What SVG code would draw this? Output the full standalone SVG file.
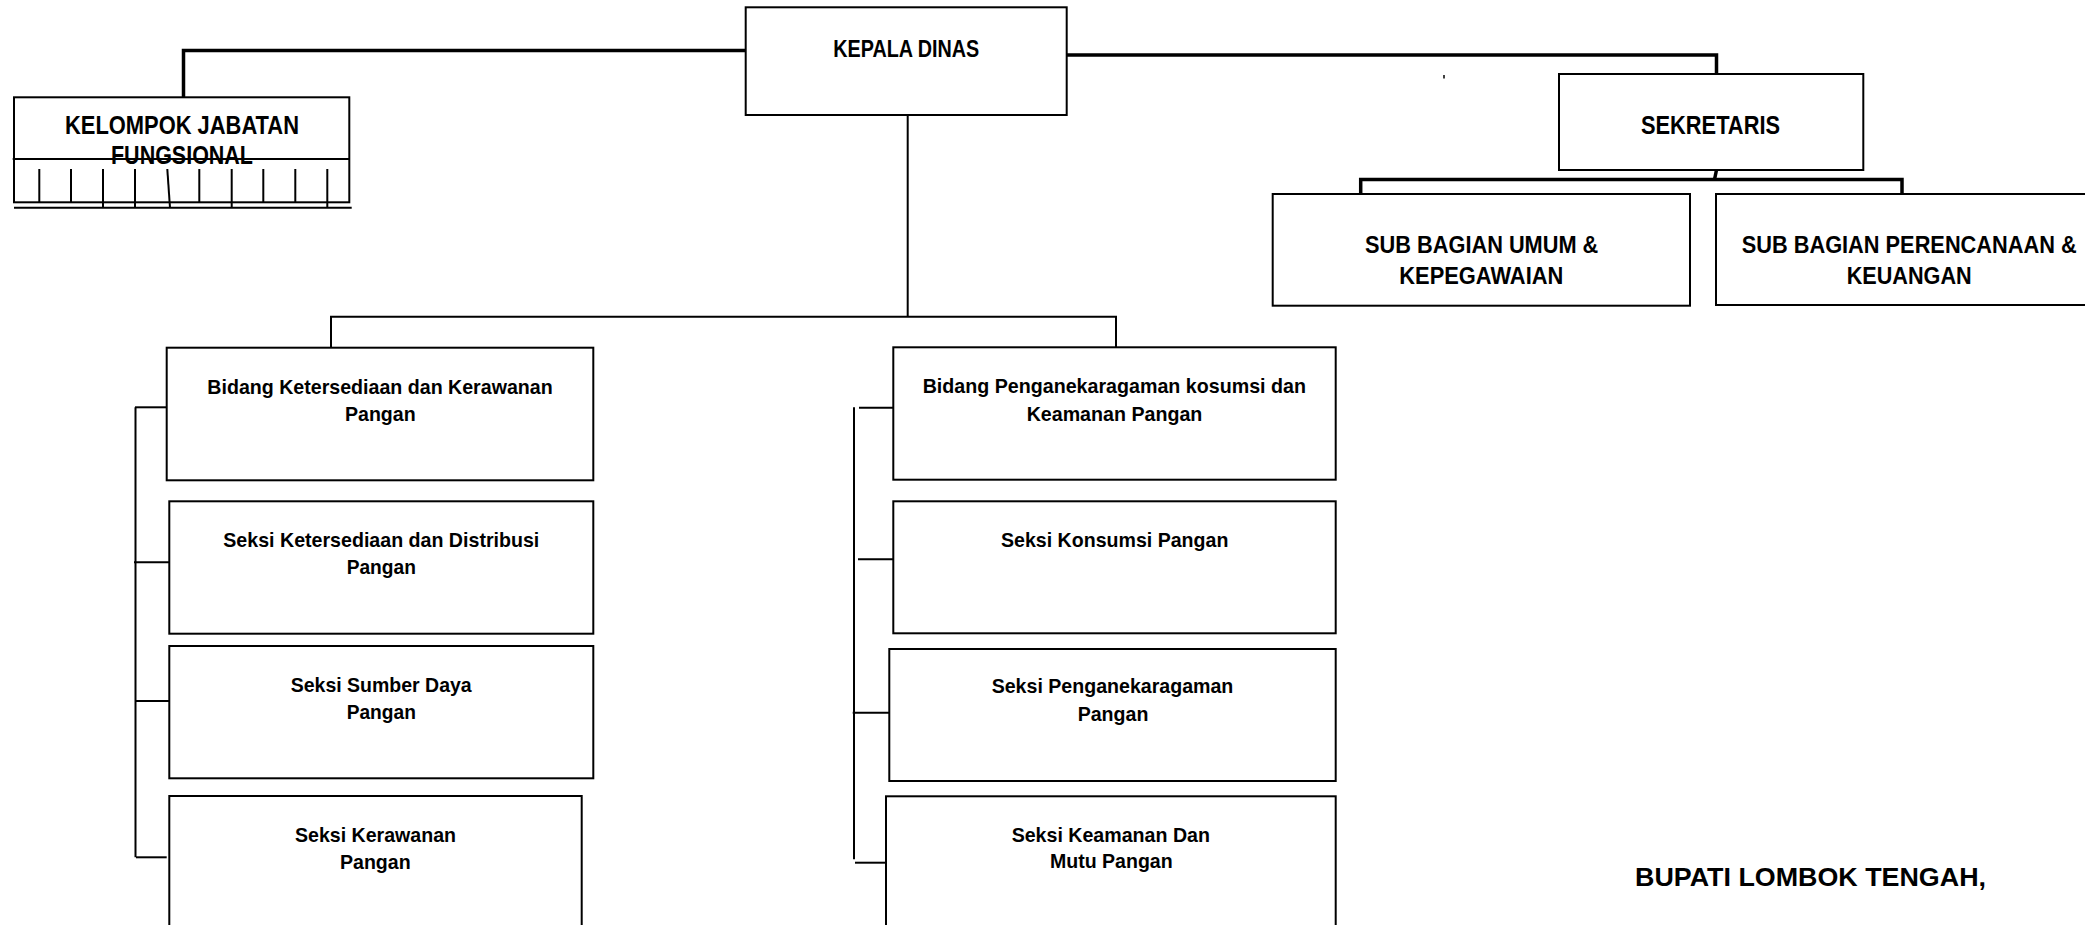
<svg xmlns="http://www.w3.org/2000/svg" width="2085" height="925" viewBox="0 0 2085 925">
<style>
  .box { fill: #ffffff; stroke: #000000; stroke-width: 2; }
  .ln { fill: none; stroke: #000000; stroke-width: 2; }
  .thick { fill: none; stroke: #000000; stroke-width: 3.5; }
  .thin { fill: none; stroke: #000000; stroke-width: 1.5; }
  .t { font-family: "Liberation Sans Narrow", "Liberation Sans", "Arial Narrow", Arial, sans-serif; font-weight: bold; fill: #000000; text-anchor: middle; }
  .tw { font-family: "Liberation Sans", Arial, sans-serif; font-weight: bold; fill: #000000; }
</style>
<rect x="0" y="0" width="2085" height="925" fill="#ffffff"/>

<g id="connectors">
  <path class="thick" d="M746,50.5 H183.5 V97.5"/>
  <path class="thick" d="M1067,55 H1716.5 V74"/>
  <path class="thick" d="M1716.5,170 L1714.5,179.5"/>
  <path class="thick" d="M1360.7,203.3 V179.5 H1902 V202.5"/>
  <line class="thin" x1="1444" y1="75" x2="1444" y2="78.5" stroke-width="1"/>
  <path class="ln" d="M907.7,109.3 V316.7"/>
  <path class="ln" d="M331,348 V316.7 H1116 V351"/>
  <path class="ln" d="M135.5,407.3 V857.3"/>
  <path class="ln" d="M135,407.3 H166.7"/>
  <path class="ln" d="M134,562.3 H169.3"/>
  <path class="ln" d="M136,701 H169.3"/>
  <path class="ln" d="M136,857.3 H166.7"/>
  <path class="ln" d="M854,407.3 V859.3"/>
  <path class="ln" d="M859,407.7 H893.3"/>
  <path class="ln" d="M858,559.3 H893.3"/>
  <path class="ln" d="M852.7,712.7 H889.3"/>
  <path class="ln" d="M855,862.7 H886"/>
</g>

<g id="kelompok-jabatan-fungsional">
  <rect class="box" x="14" y="97.3" width="335.3" height="105"/>
  <text class="t" x="182" y="134" font-size="25" textLength="234" lengthAdjust="spacingAndGlyphs">KELOMPOK JABATAN</text>
  <text class="t" x="182" y="164" font-size="25" textLength="142" lengthAdjust="spacingAndGlyphs">FUNGSIONAL</text>
  <line class="ln" x1="12.7" y1="159" x2="349.3" y2="159"/>
  <line class="ln" x1="14" y1="207.7" x2="351.7" y2="207.7"/>
  <g class="ln">
    <line x1="39.3" y1="169" x2="39.3" y2="203"/>
    <line x1="71" y1="169" x2="71" y2="203"/>
    <line x1="103" y1="169" x2="103" y2="207.7"/>
    <line x1="135" y1="169" x2="135" y2="207.7"/>
    <line x1="167.3" y1="169" x2="170" y2="207.7"/>
    <line x1="199.3" y1="169" x2="199.3" y2="203"/>
    <line x1="231.7" y1="169" x2="231.7" y2="207.7"/>
    <line x1="263.3" y1="169" x2="263.3" y2="203"/>
    <line x1="295.3" y1="169" x2="295.3" y2="203"/>
    <line x1="327.3" y1="169" x2="327.3" y2="207.7"/>
  </g>
</g>

<g id="kepala-dinas">
  <rect class="box" x="745.7" y="7.3" width="321" height="107.7"/>
  <text class="t" x="906.3" y="56.7" font-size="23" textLength="146" lengthAdjust="spacingAndGlyphs">KEPALA DINAS</text>
</g>

<g id="sekretaris">
  <rect class="box" x="1559" y="74" width="304.3" height="96"/>
  <text class="t" x="1710.5" y="134" font-size="26" textLength="139" lengthAdjust="spacingAndGlyphs">SEKRETARIS</text>
</g>

<g id="sub-bagian-umum">
  <rect class="box" x="1272.7" y="194" width="417.3" height="111.7"/>
  <text class="t" x="1481.7" y="253.3" font-size="23" textLength="233.3" lengthAdjust="spacingAndGlyphs">SUB BAGIAN UMUM &amp;</text>
  <text class="t" x="1481.3" y="284.3" font-size="23" textLength="164" lengthAdjust="spacingAndGlyphs">KEPEGAWAIAN</text>
</g>

<g id="sub-bagian-perencanaan">
  <rect class="box" x="1716" y="194" width="380" height="111"/>
  <text class="t" x="1909.2" y="253.3" font-size="23" textLength="335" lengthAdjust="spacingAndGlyphs">SUB BAGIAN PERENCANAAN &amp;</text>
  <text class="t" x="1909.2" y="284.3" font-size="23" textLength="125" lengthAdjust="spacingAndGlyphs">KEUANGAN</text>
</g>

<g id="bidang-ketersediaan">
  <rect class="box" x="166.7" y="347.7" width="426.6" height="132.6"/>
  <text class="t" x="380" y="394.3" font-size="21" textLength="345.3" lengthAdjust="spacingAndGlyphs">Bidang Ketersediaan dan Kerawanan</text>
  <text class="t" x="380.3" y="420.7" font-size="21" textLength="70.7" lengthAdjust="spacingAndGlyphs">Pangan</text>
</g>

<g id="seksi-ketersediaan-distribusi">
  <rect class="box" x="169.3" y="501.3" width="424" height="132.4"/>
  <text class="t" x="381.3" y="546.7" font-size="21" textLength="316" lengthAdjust="spacingAndGlyphs">Seksi Ketersediaan dan Distribusi</text>
  <text class="t" x="381.3" y="574" font-size="21" textLength="69.3" lengthAdjust="spacingAndGlyphs">Pangan</text>
</g>

<g id="seksi-sumber-daya">
  <rect class="box" x="169.3" y="646" width="424" height="132.3"/>
  <text class="t" x="381.2" y="691.7" font-size="21" textLength="181" lengthAdjust="spacingAndGlyphs">Seksi Sumber Daya</text>
  <text class="t" x="381.3" y="719.3" font-size="21" textLength="69.3" lengthAdjust="spacingAndGlyphs">Pangan</text>
</g>

<g id="seksi-kerawanan">
  <rect class="box" x="169.3" y="796" width="412.4" height="140"/>
  <text class="t" x="375.5" y="841.7" font-size="21" textLength="161" lengthAdjust="spacingAndGlyphs">Seksi Kerawanan</text>
  <text class="t" x="375.3" y="869.3" font-size="21" textLength="70.7" lengthAdjust="spacingAndGlyphs">Pangan</text>
</g>

<g id="bidang-penganekaragaman">
  <rect class="box" x="893.3" y="347.3" width="442.4" height="132.4"/>
  <text class="t" x="1114.3" y="392.7" font-size="21" textLength="383.3" lengthAdjust="spacingAndGlyphs">Bidang Penganekaragaman kosumsi dan</text>
  <text class="t" x="1114.5" y="420.7" font-size="21" textLength="175.7" lengthAdjust="spacingAndGlyphs">Keamanan Pangan</text>
</g>

<g id="seksi-konsumsi">
  <rect class="box" x="893.3" y="501.3" width="442.4" height="132"/>
  <text class="t" x="1114.7" y="546.7" font-size="21" textLength="227.3" lengthAdjust="spacingAndGlyphs">Seksi Konsumsi Pangan</text>
</g>

<g id="seksi-penganekaragaman">
  <rect class="box" x="889.3" y="649" width="446.4" height="132"/>
  <text class="t" x="1112.5" y="693.3" font-size="21" textLength="241.7" lengthAdjust="spacingAndGlyphs">Seksi Penganekaragaman</text>
  <text class="t" x="1113" y="721" font-size="21" textLength="70.7" lengthAdjust="spacingAndGlyphs">Pangan</text>
</g>

<g id="seksi-keamanan-mutu">
  <rect class="box" x="886" y="796.3" width="449.7" height="140"/>
  <text class="t" x="1110.8" y="841.7" font-size="21" textLength="198.3" lengthAdjust="spacingAndGlyphs">Seksi Keamanan Dan</text>
  <text class="t" x="1111.3" y="868.3" font-size="21" textLength="122.7" lengthAdjust="spacingAndGlyphs">Mutu Pangan</text>
</g>

<g id="bupati">
  <text class="tw" x="1635" y="886" font-size="25" textLength="351" lengthAdjust="spacingAndGlyphs">BUPATI LOMBOK TENGAH,</text>
</g>
</svg>
